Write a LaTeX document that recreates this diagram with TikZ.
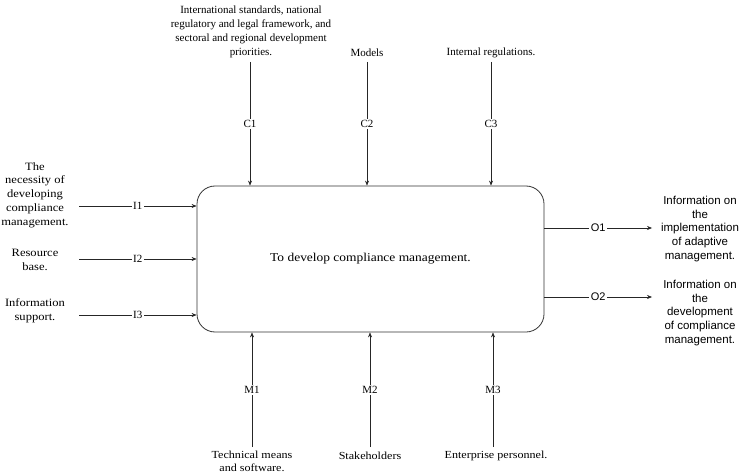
\documentclass[tikz,border=0pt]{standalone}
\usepackage{fontspec}
\setmainfont{Liberation Serif}
\newfontfamily\arialfont{Liberation Sans}
\newfontfamily\widefont[FakeStretch=1.12]{Liberation Serif}
\usetikzlibrary{arrows.meta}
\begin{document}
\begin{tikzpicture}[x=1pt,y=-1pt,
  every node/.style={font=\fontsize{11}{13.8}\selectfont},
  txt/.style={align=center,inner sep=0pt},
  wide/.style={txt,font=\widefont\fontsize{11.2}{13.8}\selectfont},
  widesmall/.style={txt,font=\widefont\fontsize{10.8}{13.2}\selectfont},
  sans/.style={txt,font=\arialfont\fontsize{11.5}{13.7}\selectfont},
  lbl/.style={fill=white,inner sep=1.5pt},
  flow/.style={draw=black!85,line width=0.6pt,-{Stealth[length=5pt,width=4pt]}},
  activity/.style={draw=black!80,line width=0.8pt,rounded corners=18pt,minimum width=347pt,minimum height=146pt,
    font=\widefont\fontsize{12}{14}\selectfont}]
\useasboundingbox (0,0) rectangle (744,476);

% activity box
\node[activity] (A) at (370.5,259) {To develop compliance management.};

% inputs
\node[wide] (tI1) at (35,195) {The\\necessity of\\developing\\compliance\\management.};
\node[wide] (tI2) at (35,260) {Resource\\base.};
\node[wide] (tI3) at (35,311) {Information\\support.};
\coordinate (sI1) at (79,206);
\coordinate (sI2) at (79,259);
\coordinate (sI3) at (79,315);
\draw[flow] (sI1) -- node[lbl] {I1} (sI1 -| A.west);
\draw[flow] (sI2) -- node[lbl] {I2} (sI2 -| A.west);
\draw[flow] (sI3) -- node[lbl] {I3} (sI3 -| A.west);

% controls
\node[txt] (tC1) at (251,32) {International standards, national\\regulatory and legal framework, and\\sectoral and regional development\\priorities.};
\node[txt] (tC2) at (367,53) {Models};
\node[txt] (tC3) at (491,53) {Internal regulations.};
\coordinate (sC1) at (250,62);
\coordinate (sC2) at (367,62);
\coordinate (sC3) at (491,62);
\draw[flow] (sC1) -- node[lbl] {C1} (sC1 |- A.north);
\draw[flow] (sC2) -- node[lbl] {C2} (sC2 |- A.north);
\draw[flow] (sC3) -- node[lbl] {C3} (sC3 |- A.north);

% mechanisms
\node[widesmall] (tM1) at (252,461.5) {Technical means\\and software.};
\node[widesmall] (tM2) at (370,456) {Stakeholders};
\node[widesmall] (tM3) at (496,456) {Enterprise personnel.};
\coordinate (sM1) at (252,447);
\coordinate (sM2) at (370,447);
\coordinate (sM3) at (493,447);
\draw[flow] (sM1) -- node[lbl] {M1} (sM1 |- A.south);
\draw[flow] (sM2) -- node[lbl] {M2} (sM2 |- A.south);
\draw[flow] (sM3) -- node[lbl] {M3} (sM3 |- A.south);

% outputs
\coordinate (eO1) at (652,228);
\coordinate (eO2) at (652,297);
\draw[flow] (eO1 -| A.east) -- node[lbl,font=\arialfont\fontsize{11}{13.8}\selectfont] {O1} (eO1);
\draw[flow] (eO2 -| A.east) -- node[lbl,font=\arialfont\fontsize{11}{13.8}\selectfont] {O2} (eO2);
\node[sans] (tO1) at (700,229) {Information on\\the\\implementation\\of adaptive\\management.};
\node[sans] (tO2) at (700,313) {Information on\\the\\development\\of compliance\\management.};
\end{tikzpicture}
\end{document}
